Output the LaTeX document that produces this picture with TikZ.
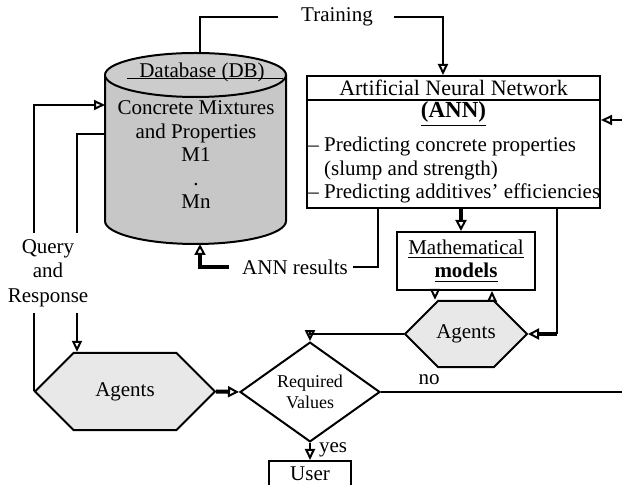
\documentclass[tikz,border=0pt]{standalone}
\usepackage{fontspec}
\setmainfont{Liberation Serif}
\usetikzlibrary{
  arrows.meta,
  positioning,
  shapes.geometric,
  shapes.misc
}

\begin{document}
\begin{tikzpicture}[x=0.5pt, y=-0.5pt,
    every node/.style={font=\fontsize{10.5}{11.75}\selectfont, inner sep=1pt},
    box/.style={draw, line width=1pt, fill=white},
    agent/.style={chamfered rectangle, draw, line width=1pt, fill=black!9, inner sep=0pt},
    decision/.style={diamond, draw, line width=1pt, fill=white, inner sep=0pt, align=center, font=\fontsize{9}{10.5}\selectfont},
    link/.style={line width=1pt},
    feed/.style={line width=1pt, -{Triangle[open, length=5.5pt, width=5pt]}},
    heavy/.style={line width=2pt, -{Triangle[open, length=5.5pt, width=5.5pt, line width=1pt]}}]
\useasboundingbox (0,0) rectangle (622,485);
\clip (0,0) rectangle (622,485);

% database cylinder
\fill[black!22] (105,75) -- (105,221) arc[start angle=180, end angle=360, x radius=45.25pt, y radius=11.5pt] -- (286,75) -- cycle;
\draw[link] (105,75) -- (105,221) arc[start angle=180, end angle=360, x radius=45.25pt, y radius=11.5pt] -- (286,75);
\draw[link, fill=black!20] (195.5,75) ellipse [x radius=45.25pt, y radius=11pt];
\coordinate (dbtop) at (200,53);
\coordinate (dbq) at (105,105);
\coordinate (dbr) at (105,134);
\coordinate (dbbot) at (200,244);
\node (dbtitle) at (202,72) {Database (DB)};
\draw[line width=0.5pt] (127,79) -- (283,79);
\node[align=center] (dbtext) at (196,155) {Concrete Mixtures\\and Properties\\M1\\.\\Mn};

% neural network
\node[box, minimum width=146.5pt, minimum height=66pt] (ann) at (453.5,142) {};
\node[font=\fontsize{11}{12}\selectfont] (anntitle) at (453.5,88) {Artificial Neural Network};
\draw[link] ([yshift=-12.5pt]ann.north west) -- ([yshift=-12.5pt]ann.north east);
\node[font=\fontsize{11.5}{13}\selectfont\bfseries] (annabbr) at (453.5,114) {\underline{(ANN)}};
\node[anchor=west, align=left, inner sep=0pt] (annlist) at (308,170) {– Predicting concrete properties\\\phantom{– }(slump and strength)\\– Predicting additives’ efficiencies};

\node[box, minimum width=69pt, minimum height=29pt, align=center] (math) at (466,261) {\underline{Mathematical}\\\underline{\textbf{models}}};
\node[agent, minimum width=61pt, minimum height=24pt, chamfered rectangle xsep=15pt, chamfered rectangle ysep=12pt] (agr) at (466,334) {Agents};
\node[agent, minimum width=90pt, minimum height=29.5pt, chamfered rectangle xsep=21.5pt, chamfered rectangle ysep=14.75pt] (agl) at (125,391.5) {Agents};
\node[decision, minimum width=70pt, minimum height=36pt] (req) at (310,392) {Required\\Values};
\node[box, anchor=north, minimum width=41pt, minimum height=13pt] (user) at (310,460) {User};

\node (train) at (337,17) {Training};
\node (annres) at (295,267) {ANN results};
\node[align=center, inner ysep=3pt, font=\fontsize{10.5}{12.25}\selectfont] (qr) at (48,273) {Query\\and\\Response};
\coordinate (qx) at (77,0);
\coordinate (loopin) at (622,120);
\coordinate (loopout) at (622,392);
\coordinate (annout) at ([xshift=51.75pt]ann.south);

% connectors
\draw[link] (dbtop) |- ([xshift=-10.5pt]train.west);
\draw[feed] ([xshift=9.5pt]train.east) -| ([xshift=-5.25pt]ann.north);
\draw[feed] (loopin) -- (loopin -| ann.east);
\draw[link] ([xshift=-37.75pt]ann.south) |- ([xshift=1.5pt]annres.east);
\draw[heavy] ([xshift=-5.5pt]annres.west) -| (dbbot);
\draw[heavy] ([xshift=-2.5pt]math.north |- ann.south) -- ([xshift=-2.5pt]math.north);
\draw[feed] ([xshift=-15.5pt]math.south) -- ([xshift=-15.5pt]math.south |- agr.north);
\draw[feed] ([xshift=13pt]math.south |- agr.north) -- ([xshift=13pt]math.south);
\draw[link] (annout) -- (annout |- agr.east);
\draw[heavy] (annout |- agr.east) -- (agr.east);
\draw[feed] (agr.west) -| (req.north);
\draw[heavy] (agl.east) -- (req.west);
\draw[link] (req.east) -- node[pos=0.2, above=2pt] (nolabel) {no} (loopout);
\draw[feed] (req.south) -- node[right=3pt, pos=0.4] (yeslabel) {yes} (req.south |- user.north);
\draw[link] (agl.west) -- (agl.west |- qr.south);
\draw[feed] (agl.west |- qr.north) |- (dbq);
\draw[link] (dbr) -| (qx |- qr.north);
\draw[feed] (qx |- qr.south) -- (qx |- agl.north);
\end{tikzpicture}
\end{document}
